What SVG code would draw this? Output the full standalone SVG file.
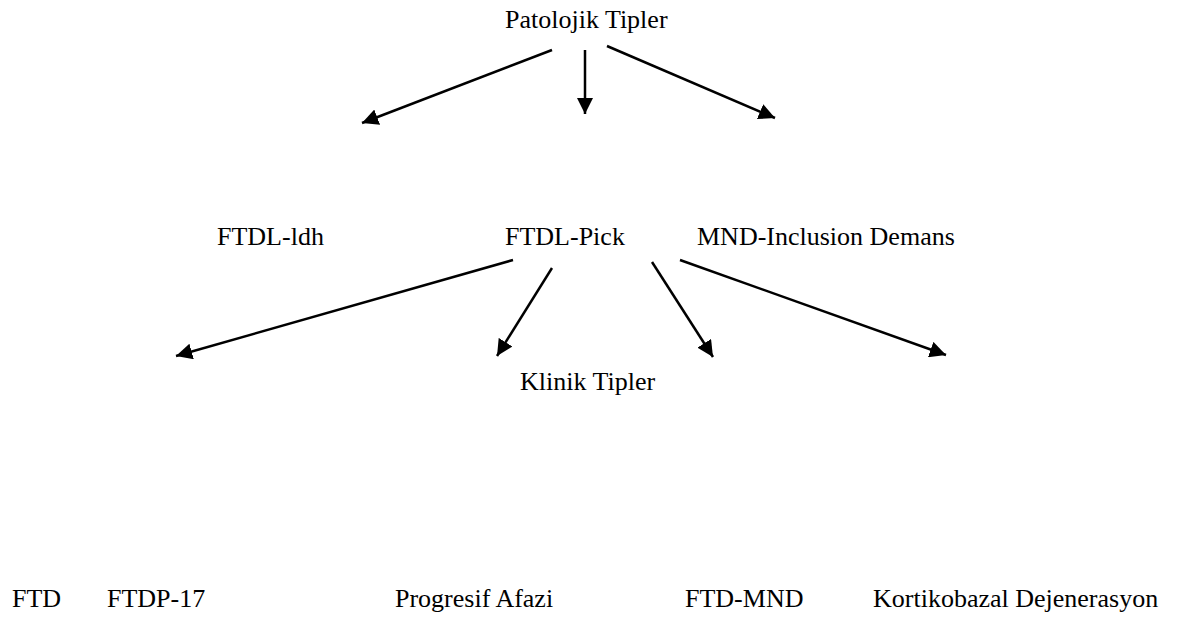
<svg xmlns="http://www.w3.org/2000/svg" width="1177" height="619" viewBox="0 0 1177 619">
<style>
text{font-family:'Liberation Serif','Times New Roman','DejaVu Serif',serif;font-size:26px;fill:#000}
.c line{stroke:#000;stroke-width:2.5;fill:none}
</style>
<defs>
<marker id="ah" viewBox="0 0 10 10" refX="10" refY="5" markerWidth="6.5" markerHeight="6.5" markerUnits="strokeWidth" orient="auto">
<path d="M0,0 L10,5 L0,10 z" fill="#000"/>
</marker>
</defs>
<rect width="1177" height="619" fill="#fff"/>
<g id="patolojik"><text x="505" y="28" font-family="Liberation Serif, serif">Patolojik Tipler</text></g>
<g id="ftdl-ldh"><text x="217" y="245" font-family="Liberation Serif, serif">FTDL-ldh</text></g>
<g id="ftdl-pick"><text x="505" y="245" font-family="Liberation Serif, serif">FTDL-Pick</text></g>
<g id="mnd"><text x="697" y="245" font-family="Liberation Serif, serif">MND-Inclusion Demans</text></g>
<g id="klinik"><text x="520" y="390" font-family="Liberation Serif, serif">Klinik Tipler</text></g>
<g id="ftd"><text x="12" y="607" font-family="Liberation Serif, serif">FTD</text></g>
<g id="ftdp17"><text x="107" y="607" font-family="Liberation Serif, serif">FTDP-17</text></g>
<g id="progresif"><text x="395" y="607" font-family="Liberation Serif, serif">Progresif Afazi</text></g>
<g id="ftdmnd"><text x="685" y="607" font-family="Liberation Serif, serif">FTD-MND</text></g>
<g id="kortiko"><text x="873" y="607" font-family="Liberation Serif, serif">Kortikobazal Dejenerasyon</text></g>
<g id="connectors" class="c">
<line x1="552" y1="50" x2="362" y2="123" marker-end="url(#ah)"/>
<line x1="585" y1="50" x2="585" y2="114" marker-end="url(#ah)"/>
<line x1="607" y1="46" x2="775" y2="118" marker-end="url(#ah)"/>
<line x1="513" y1="260" x2="176" y2="356" marker-end="url(#ah)"/>
<line x1="552" y1="268" x2="497" y2="356" marker-end="url(#ah)"/>
<line x1="652" y1="262" x2="713" y2="357" marker-end="url(#ah)"/>
<line x1="680" y1="260" x2="946" y2="355" marker-end="url(#ah)"/>
</g>
</svg>
